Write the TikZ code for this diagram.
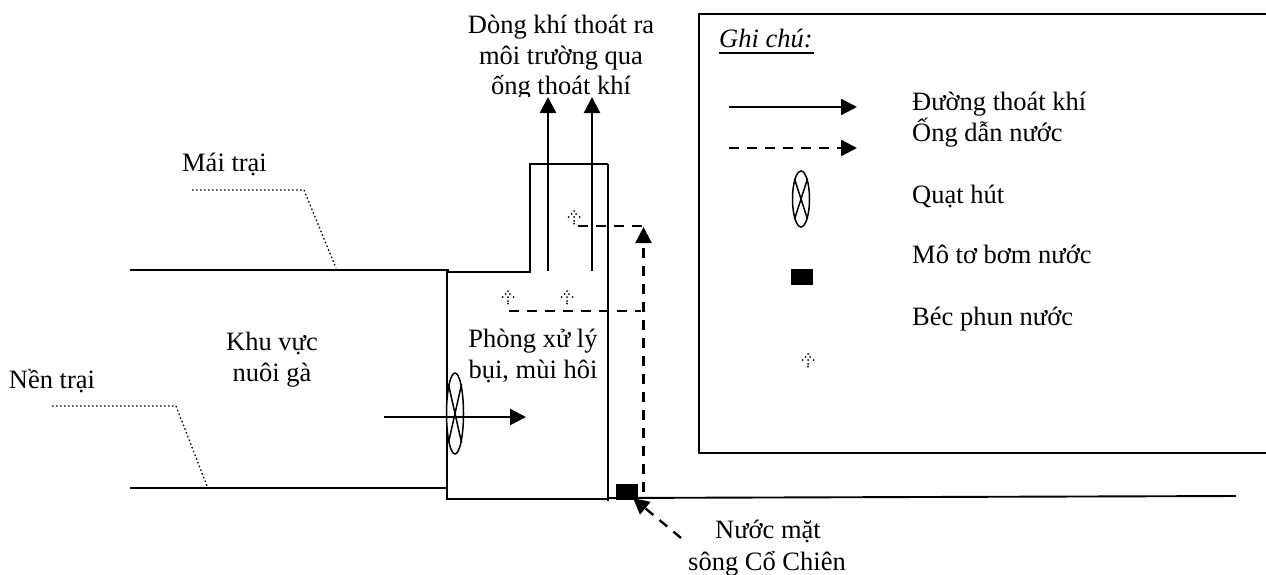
\documentclass[tikz,border=0pt]{standalone}
\usepackage{fontspec}
\usetikzlibrary{arrows.meta,shapes.geometric}
\setmainfont{Liberation Serif}
\tikzset{
  x=1pt,y=-1pt,
  lbl/.style={inner sep=0pt,font=\fontsize{26.5}{26.5}\selectfont,anchor=base},
  lgd/.style={lbl,anchor=base west},
  wall/.style={line width=2.5pt},
  thin wall/.style={line width=1.9pt},
  flow/.style={line width=2.4pt,-{Triangle[length=16pt,width=16pt]}},
  water/.style={line width=2.4pt,dash pattern=on 10pt off 8pt},
  waterflow/.style={water,-{Triangle[length=16pt,width=16pt]}},
  leader/.style={line width=1.3pt,dash pattern=on 1.5pt off 2.5pt},
  fan/.style={draw,ellipse,line width=1.5pt,minimum width=17pt,inner sep=0pt},
  fanx/.style={line width=1.5pt},
  pump/.style={fill=black,inner sep=0pt,minimum width=22pt,minimum height=16pt},
  nozzle/.pic={\foreach \p/\q in {0/-6,-2.3/-3,2/-3,-5.3/0,0/0,5.6/0,0/4,0/6.7}{\fill (\p,\q) circle[radius=1pt];}},
}
\begin{document}
\begin{tikzpicture}
\useasboundingbox (0,0) rectangle (1266,574);
% legend box
\coordinate (boxTR) at (1266,14); \coordinate (boxTL) at (699,14);
\coordinate (boxBL) at (699,453); \coordinate (boxBR) at (1266,453);
\draw[line width=1.6pt] (boxTR) -- (boxTL) -- (boxBL) -- (boxBR);
% walls
\coordinate (roofL) at (130,270); \coordinate (roofR) at (449,270);
\coordinate (wallT) at (447,270); \coordinate (wallB) at (447,500);
\coordinate (ledgeL) at (447,272); \coordinate (stackBL) at (530,272);
\coordinate (stackTL) at (530,164); \coordinate (stackTR) at (608,164);
\coordinate (roomBR) at (608,501); \coordinate (floorL) at (447,499);
\coordinate (floorR) at (608,499); \coordinate (groundL) at (608,498); \coordinate (groundR) at (1236,496);
\coordinate (baseL) at (130,488); \coordinate (baseR) at (447,488);
\draw[wall] (roofL) -- (roofR);
\draw[wall] (wallT) -- (wallB);
\draw[thin wall] (ledgeL) -- (stackBL) -- (stackTL) -- (stackTR);
\draw[wall] (stackTR) -- (roomBR);
\draw[wall] (floorL) -- (floorR);
\draw[thin wall] (groundL) -- (groundR);
\draw[wall] (baseL) -- (baseR);
% labels behind the arrows
\node[lbl] (t1) at (561,33) {Dòng khí thoát ra};
\node[lbl] (t2) at (561,64) {môi trường qua};
\begin{scope}
\clip (460,70) rectangle (680,96);
\node[lbl] (t3) at (561,94) {ống thoát khí};
\end{scope}
% exhaust
\coordinate (ex1a) at (548,271); \coordinate (ex1b) at (548,97);
\coordinate (ex2a) at (592,271); \coordinate (ex2b) at (592,97);
\draw[flow] (ex1a) -- (ex1b);
\draw[flow] (ex2a) -- (ex2b);
% fan, arrow
\node[fan,fill=white,minimum height=81pt] (fan1) at (455,413.5) {};
\draw[fanx] (fan1.north west) -- (fan1.south east);
\draw[fanx] (fan1.north east) -- (fan1.south west);
\coordinate (in1) at (384,417); \coordinate (in2) at (526,417);
\draw[flow] (in1) -- (in2);
% nozzles
\pic at (574,217) {nozzle}; \pic at (508,297) {nozzle}; \pic at (567,297) {nozzle}; \pic at (808,360) {nozzle};
% water
\node[pump] (pump1) at (627,492) {};
\coordinate (riserB) at (643.5,492); \coordinate (riserT) at (643.5,227);
\coordinate (w1) at (578,226); \coordinate (w2) at (644,226);
\coordinate (w3) at (509,311); \coordinate (w4) at (641,311);
\coordinate (river) at (681,538); \coordinate (pumpIn) at (633,498);
\draw[waterflow] (riserB) -- (riserT);
\draw[water] (w1) -- (w2);
\draw[water] (w3) -- (w4);
\draw[waterflow] (river) -- (pumpIn);
% leaders
\coordinate (l1) at (192,190); \coordinate (l2) at (304,190); \coordinate (l3) at (336,268);
\coordinate (l4) at (52,406); \coordinate (l5) at (176,406); \coordinate (l6) at (207,486);
\draw[leader] (l1) -- (l2) -- (l3);
\draw[leader] (l4) -- (l5) -- (l6);
% legend symbols
\coordinate (a1) at (729,107); \coordinate (a2) at (857,107);
\coordinate (b1) at (729,148); \coordinate (b2) at (857,148);
\draw[flow] (a1) -- (a2);
\draw[waterflow] (b1) -- (b2);
\node[fan,minimum height=56pt] (fan2) at (801,199) {};
\draw[fanx] (fan2.north west) -- (fan2.south east);
\draw[fanx] (fan2.north east) -- (fan2.south west);
\node[pump] (pump2) at (802,277) {};
% labels
\node[lbl] (t4) at (224.5,171) {Mái trại};
\node[lbl] (t5) at (52,388) {Nền trại};
\node[lbl] (t6) at (272,350) {Khu vực};
\node[lbl] (t7) at (272,381) {nuôi gà};
\node[lbl] (t8) at (533,347) {Phòng xử lý};
\node[lbl] (t9) at (533,378) {bụi, mùi hôi};
\node[lbl] (t10) at (768,538) {Nước mặt};
\node[lbl] (t11) at (767,570) {sông Cổ Chiên};
\node[lgd] (g0) at (719,47) {\itshape Ghi chú:};
\coordinate (u1) at (719,53); \coordinate (u2) at (814,53);
\draw[line width=1.5pt] (u1) -- (u2);
\node[lgd] (g1) at (912,110) {Đường thoát khí};
\node[lgd] (g2) at (912,141) {Ống dẫn nước};
\node[lgd] (g3) at (912,203) {Quạt hút};
\node[lgd] (g4) at (912,263) {Mô tơ bơm nước};
\node[lgd] (g5) at (912,325) {Béc phun nước};
\end{tikzpicture}
\end{document}
